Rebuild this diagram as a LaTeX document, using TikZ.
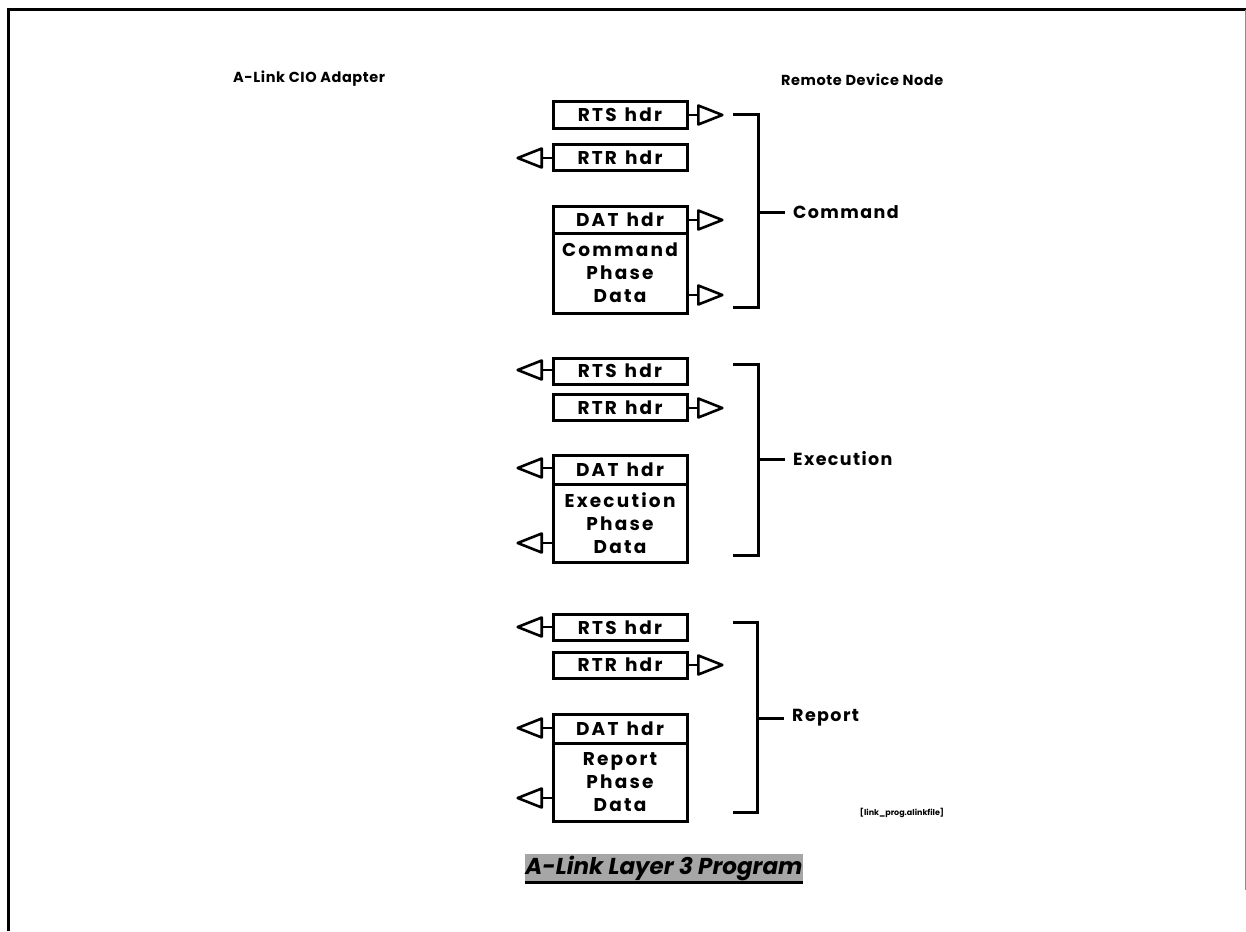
\documentclass[tikz,border=0pt]{standalone}
\usepackage{fontspec}
\setmainfont{Poppins}
\usetikzlibrary{shapes.geometric}
\newfontfamily\lblfont{Poppins}[LetterSpace=12]
\newfontfamily\sidefont{Poppins}[LetterSpace=8]
\newfontfamily\headfont{Poppins}[LetterSpace=4]
\newcommand{\wsp}{\hspace{8pt}}
\begin{document}
\begin{tikzpicture}[x=1pt,y=-1pt,
  hdrbox/.style={draw, line width=3pt, minimum width=134pt, minimum height=26pt, inner sep=0pt,
    font=\lblfont\bfseries\fontsize{18.5}{20}\selectfont},
  databox/.style={hdrbox, minimum height=79pt, align=center,
    font=\lblfont\bfseries\fontsize{18.5}{23}\selectfont},
  tri/.style={draw, line width=2.6pt, line join=round, isosceles triangle, isosceles triangle stretches,
    minimum width=19pt, minimum height=24pt, inner sep=0pt, fill=white},
  triR/.style={tri, anchor=west},
  triL/.style={tri, shape border rotate=180, anchor=east},
  conn/.style={line width=2.6pt},
  brk/.style={line width=3pt},
  phase/.style={anchor=west, inner sep=0pt, inner xsep=8pt, font=\sidefont\bfseries\fontsize{17.5}{20}\selectfont},
  side/.style={anchor=west, inner sep=0pt, font=\headfont\bfseries\fontsize{14.5}{17}\selectfont}
]
\useasboundingbox (0,0) rectangle (1246,931);
% frame
\draw[line width=3pt] (8,931) -- (8,10) -- (1246,10);
\draw[line width=1pt, black!45] (1245,10) -- (1245,890);

% headers
\node[side] (hA) at (233,79) {A-Link CIO Adapter};
\node[side] (hR) at (781,80) {Remote Device Node};

% ---------- Command ----------
\node[hdrbox] (c1) at (620,115) {RTS\wsp hdr};
\node[hdrbox] (c2) at (620,157.5) {RTR\wsp hdr};
\node[hdrbox, minimum height=27pt] (c3) at (620,219.5) {DAT\wsp hdr};
\node[databox, minimum height=80pt] (c4) at (620,273) {Command\\Phase\\Data};
\node[triR] (ct1) at (697,115) {};
\node[triL] (ct2) at (543,158) {};
\node[triR] (ct3) at (697,220) {};
\node[triR] (ct4) at (697,295) {};
\draw[conn] (ct1.west) -- (ct1.west -| c1.east);
\draw[conn] (ct2.east) -- (ct2.east -| c2.west);
\draw[conn] (ct3.west) -- (ct3.west -| c3.east);
\draw[conn] (ct4.west) -- (ct4.west -| c4.east);
\coordinate (cbt) at (733,115);
\coordinate (cbb) at (733,307);
\coordinate (cbm) at (758,212);
\draw[brk] (cbt) -- ++(25,0) |- (cbb);
\node[phase] (cl) at (785,212) {Command};
\draw[brk] (cbm) -- (cl.west);

% ---------- Execution ----------
\node[hdrbox] (e1) at (620,371) {RTS\wsp hdr};
\node[hdrbox] (e2) at (620,407.5) {RTR\wsp hdr};
\node[hdrbox, minimum height=29pt] (e3) at (620,469.5) {DAT\wsp hdr};
\node[databox, minimum height=78pt] (e4) at (620,523) {Execution\\Phase\\Data};
\node[triL] (et1) at (543,370) {};
\node[triR] (et2) at (697,408) {};
\node[triL] (et3) at (543,468) {};
\node[triL] (et4) at (543,543) {};
\draw[conn] (et1.east) -- (et1.east -| e1.west);
\draw[conn] (et2.west) -- (et2.west -| e2.east);
\draw[conn] (et3.east) -- (et3.east -| e3.west);
\draw[conn] (et4.east) -- (et4.east -| e4.west);
\coordinate (ebt) at (733,364);
\coordinate (ebb) at (733,555);
\coordinate (ebm) at (758,459);
\draw[brk] (ebt) -- ++(25,0) |- (ebb);
\node[phase] (el) at (785,459) {Execution};
\draw[brk] (ebm) -- (el.west);

% ---------- Report ----------
\node[hdrbox] (r1) at (620,627.5) {RTS\wsp hdr};
\node[hdrbox] (r2) at (620,665) {RTR\wsp hdr};
\node[hdrbox, minimum height=29pt] (r3) at (620,728.5) {DAT\wsp hdr};
\node[databox, minimum height=78pt] (r4) at (620,782) {Report\\Phase\\Data};
\node[triL] (rt1) at (543,627) {};
\node[triR] (rt2) at (697,665) {};
\node[triL] (rt3) at (543,728) {};
\node[triL] (rt4) at (543,798) {};
\draw[conn] (rt1.east) -- (rt1.east -| r1.west);
\draw[conn] (rt2.west) -- (rt2.west -| r2.east);
\draw[conn] (rt3.east) -- (rt3.east -| r3.west);
\draw[conn] (rt4.east) -- (rt4.east -| r4.west);
\coordinate (rbt) at (733,622);
\coordinate (rbb) at (733,812);
\coordinate (rbm) at (758,718);
\draw[brk] (rbt) -- ++(24,0) |- (rbb);
\node[phase] (rl) at (784,718) {Report};
\draw[brk] (rbm) -- (rl.west);

% file label
\node[inner sep=0pt, font=\bfseries\fontsize{8}{9}\selectfont] (fl) at (902,813) {[link\_prog.alinkfile]};

% title
\node[fill=black!35, minimum width=278pt, minimum height=28pt, inner sep=0pt,
  font=\bfseries\itshape\fontsize{23}{26}\selectfont] (ttl) at (664,868) {A-Link Layer 3 Program};
\draw[line width=3pt] (ttl.south west) -- (ttl.south east);
\end{tikzpicture}
\end{document}
